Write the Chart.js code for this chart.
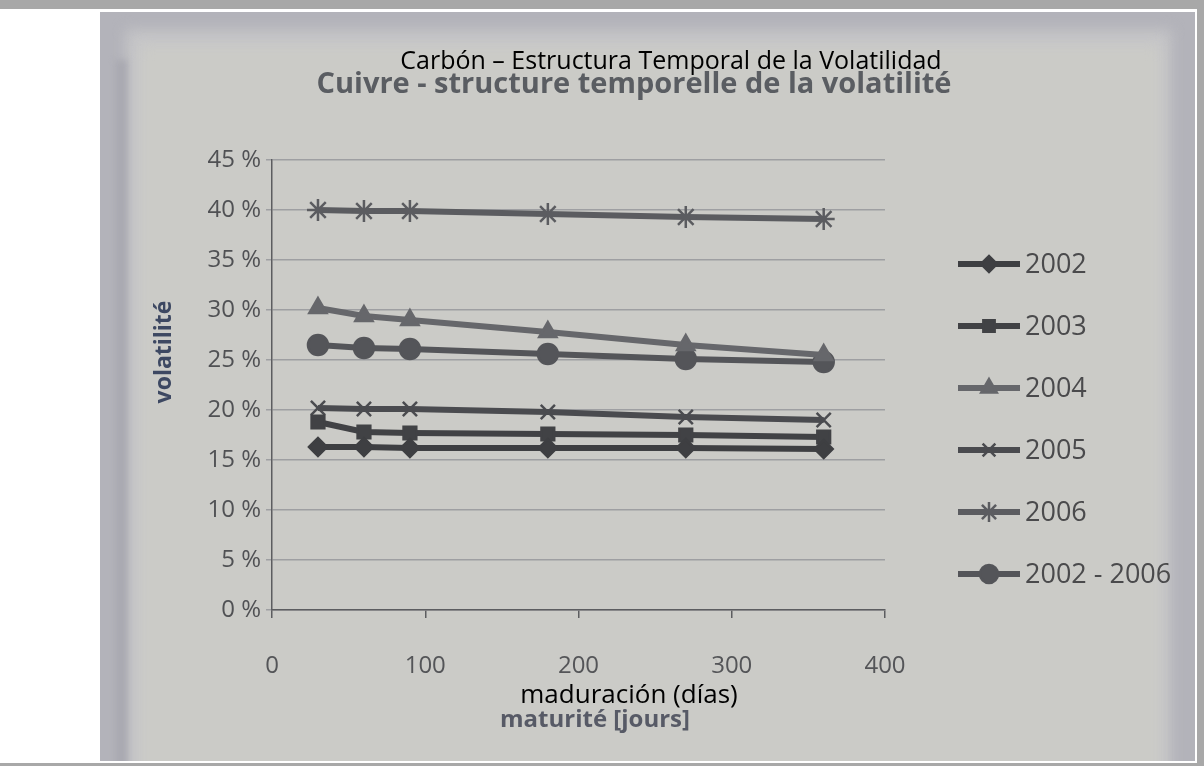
<!DOCTYPE html>
<html>
<head>
<meta charset="utf-8">
<title>Carbón – Estructura Temporal de la Volatilidad</title>
<script src="https://cdn.jsdelivr.net/npm/chart.js@4/dist/chart.umd.min.js"></script>
<style>
  html, body { margin: 0; padding: 0; background: #ffffff; }
  canvas { display: block; }
</style>
</head>
<body>
<canvas id="chart" width="1204" height="766"></canvas>
<script>
// Maturities (days) and volatility (%) per year
const maturityDays = [30, 60, 90, 180, 270, 360];
const seriesNames = ['2002', '2003', '2004', '2005', '2006', '2002 - 2006'];
const vol2002 = [16.3, 16.3, 16.2, 16.2, 16.2, 16.1];
const vol2003 = [18.8, 17.8, 17.7, 17.6, 17.5, 17.3];
const vol2004 = [30.2, 29.4, 29.0, 27.8, 26.5, 25.5];
const vol2005 = [20.2, 20.1, 20.1, 19.8, 19.3, 19.0];
const vol2006 = [40.0, 39.9, 39.9, 39.6, 39.3, 39.1];
const vol2002to2006 = [26.5, 26.2, 26.1, 25.6, 25.1, 24.8];
const xTickValues = [0, 100, 200, 300, 400];
const yTickValues = [0, 5, 10, 15, 20, 25, 30, 35, 40, 45];

const titleEs = 'Carbón – Estructura Temporal de la Volatilidad';
const titleFr = 'Cuivre - structure temporelle de la volatilité';
const xLabelEs = 'maduración (días)';
const xLabelFr = 'maturité [jours]';
const yLabel = 'volatilité';

const seriesValues = [vol2002, vol2003, vol2004, vol2005, vol2006, vol2002to2006];
const seriesStyle = [
  { color: '#3e3f42', point: 'rectRot',  radius: 9 },
  { color: '#414245', point: 'rect',     radius: 9 },
  { color: '#66676b', point: 'triangle', radius: 10 },
  { color: '#4a4b4f', point: 'crossRot', radius: 10 },
  { color: '#5b5c60', point: 'star',     radius: 11 },
  { color: '#545559', point: 'circle',   radius: 10 }
];

const datasets = seriesNames.map((name, i) => ({
  label: name,
  data: maturityDays.map((d, j) => ({ x: d, y: seriesValues[i][j] })),
  borderColor: seriesStyle[i].color,
  backgroundColor: seriesStyle[i].color,
  pointBackgroundColor: seriesStyle[i].color,
  pointBorderColor: seriesStyle[i].color,
  pointStyle: seriesStyle[i].point,
  pointRadius: seriesStyle[i].radius,
  pointBorderWidth: 2.5,
  borderWidth: 6,
  tension: 0
}));

// Paper frame behind the chart
const backdrop = {
  id: 'backdrop',
  beforeDraw(chart) {
    const c = chart.ctx, W = chart.width, H = chart.height;
    c.save();
    c.fillStyle = '#ffffff';
    c.fillRect(0, 0, W, H);
    c.fillStyle = '#a8a8a8';
    c.fillRect(0, 0, W, 9);
    c.fillRect(0, 763, W, 3);
    c.fillRect(1197, 0, W - 1197, H);
    c.beginPath();
    c.rect(100, 12, 1095, 749);
    c.clip();
    c.fillStyle = '#b3b3ba';
    c.fillRect(100, 12, 1095, 749);
    c.filter = 'blur(7px)';
    c.fillStyle = '#c6c6c8';
    c.fillRect(126, 30, 1045, 760);
    c.fillStyle = '#cbcbc7';
    c.fillRect(140, 46, 1020, 750);
    c.filter = 'blur(3px)';
    c.fillStyle = '#a9a9b1';
    c.fillRect(115, 60, 12, 720);
    c.filter = 'none';
    c.restore();
  }
};

// Titles, axis captions and legend
const annotations = {
  id: 'annotations',
  afterDraw(chart) {
    const c = chart.ctx;
    c.save();
    c.textBaseline = 'middle';
    c.textAlign = 'center';

    c.fillStyle = '#5a5d62';
    c.font = 'bold 29px "Open Sans"';
    c.fillText(titleFr, 634, 85);
    c.fillStyle = '#000000';
    c.font = '25px "Open Sans"';
    c.fillText(titleEs, 671, 62);

    c.fillStyle = '#575a66';
    c.font = 'bold 24px "Open Sans"';
    c.fillText(xLabelFr, 595, 720);
    c.fillStyle = '#000000';
    c.font = '26px "Open Sans"';
    c.fillText(xLabelEs, 629, 696);

    c.save();
    c.translate(164, 352);
    c.rotate(-Math.PI / 2);
    c.fillStyle = '#3d4862';
    c.font = 'bold 23px "Open Sans"';
    c.fillText(yLabel, 0, 0);
    c.restore();

    // legend built from the datasets
    c.textAlign = 'left';
    c.font = '27px "Open Sans"';
    chart.data.datasets.forEach((ds, i) => {
      const y = 264 + i * 62;
      c.strokeStyle = ds.borderColor;
      c.lineWidth = ds.borderWidth;
      c.beginPath();
      c.moveTo(958, y);
      c.lineTo(1020, y);
      c.stroke();
      c.fillStyle = ds.pointBackgroundColor;
      c.strokeStyle = ds.pointBorderColor;
      c.lineWidth = ds.pointBorderWidth;
      Chart.helpers.drawPoint(c, {
        pointStyle: ds.pointStyle,
        radius: ds.pointRadius - 1,
        rotation: 0,
        borderWidth: ds.pointBorderWidth
      }, 989, y);
      c.fillStyle = '#4a4a4c';
      c.fillText(ds.label, 1025, y + 1);
    });
    c.restore();
  }
};

new Chart(document.getElementById('chart'), {
  type: 'line',
  data: { datasets },
  options: {
    responsive: false,
    devicePixelRatio: 1,
    animation: false,
    layout: { padding: { left: 0, right: 319, top: 160, bottom: 0 } },
    plugins: {
      legend: { display: false },
      title: { display: false },
      tooltip: { enabled: false }
    },
    scales: {
      x: {
        type: 'linear',
        min: 0,
        max: 400,
        afterFit(scale) { scale.height = 156; },
        afterBuildTicks(scale) { scale.ticks = xTickValues.map(v => ({ value: v })); },
        ticks: {
          color: '#545558',
          font: { family: '"Open Sans"', size: 24 },
          padding: 34,
          maxRotation: 0
        },
        grid: {
          drawOnChartArea: false,
          drawTicks: true,
          tickLength: 8,
          color: '#5c5d60',
          lineWidth: 1.5
        },
        border: { color: '#5c5d60', width: 1.5 }
      },
      y: {
        min: 0,
        max: 45,
        afterFit(scale) { scale.width = 272; },
        afterBuildTicks(scale) { scale.ticks = yTickValues.map(v => ({ value: v })); },
        ticks: {
          color: '#505154',
          font: { family: '"Open Sans"', size: 24 },
          padding: 5,
          callback: v => v + ' %'
        },
        grid: {
          color: '#9e9fa2',
          lineWidth: 1.5,
          tickLength: 6
        },
        border: { color: '#5c5d60', width: 1.5 }
      }
    }
  },
  plugins: [backdrop, annotations]
});
</script>
</body>
</html>
